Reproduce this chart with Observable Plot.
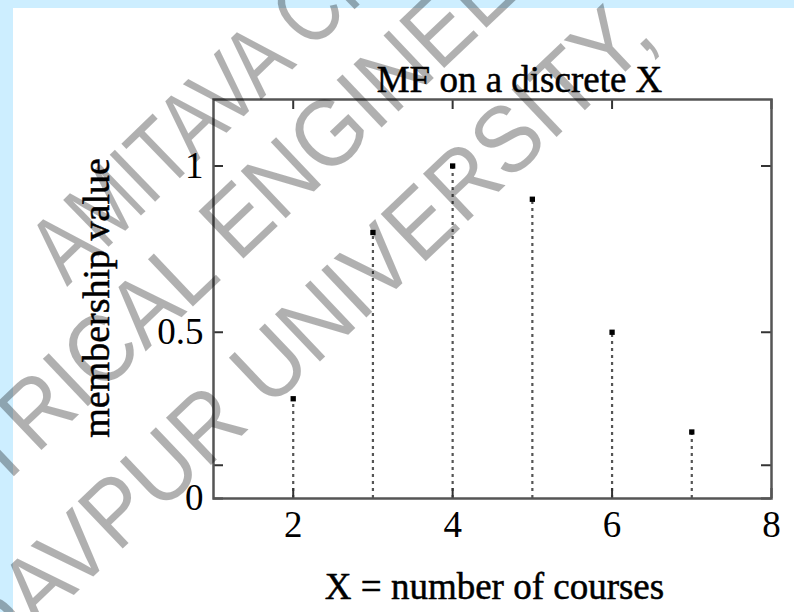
<!DOCTYPE html>
<html>
<head>
<meta charset="utf-8">
<script src="https://cdn.jsdelivr.net/npm/d3@7"></script>
<script src="https://cdn.jsdelivr.net/npm/@observablehq/plot@0.6"></script>
<style>
  html, body { margin: 0; padding: 0; background: #cdeeff; }
  #wrap { position: relative; width: 794px; height: 612px; overflow: hidden; }
  #paper { position: absolute; left: 13px; top: 8px; right: 0; bottom: 0; background: #ffffff; }
  #chart, #wm { position: absolute; left: 0; top: 0; }
  #wm { pointer-events: none; }
</style>
</head>
<body>
<div id="wrap">
  <div id="paper"></div>
  <div id="chart"></div>
  <svg id="wm" width="794" height="612"></svg>
</div>
<script>
// ---- data ----
const xValues = [2, 3, 4, 5, 6, 7];
const muValues = [0.3, 0.8, 1.0, 0.9, 0.5, 0.2];
const xTicks = [2, 4, 6, 8];
const yTickMarks = [0, 0.1, 0.5, 1];
const yTickLabels = [0, 0.5, 1];
const titleText = "MF on a discrete X";
const xLabelText = "X = number of courses";
const yLabelText = "membership value";
const watermarkLines = ["AMITAVA CHAKRABARTI", "ELECTRICAL ENGINEERING,", "JADAVPUR UNIVERSITY,"];

const data = xValues.map((x, i) => ({x, mu: muValues[i]}));

const W = 794, H = 612;
const mL = 213, mR = 23, mT = 99, mB = 114;
const innerW = W - mL - mR, innerH = H - mT - mB;
const tickLen = 10;
const serif = "'Liberation Serif', 'Times New Roman', Times, serif";
const textStroke = {stroke: "#000", strokeWidth: 0.5};

const plot = Plot.plot({
  width: W, height: H,
  marginLeft: mL, marginRight: mR, marginTop: mT, marginBottom: mB,
  x: {domain: [1, 8]},
  y: {domain: [0, 1.2]},
  style: {fontFamily: serif, fontSize: "37px", background: "transparent", color: "#000", overflow: "visible"},
  marks: [
    Plot.ruleX(data, {x: "x", y1: 0, y2: "mu", stroke: "#555", strokeWidth: 2.2, strokeDasharray: "3,4"}),
    Plot.dot(data, {x: "x", y: "mu", symbol: "square", r: 3, fill: "#000", stroke: "none"}),
    Plot.ruleX(xTicks, {insetTop: innerH - tickLen, stroke: "#333", strokeWidth: 2}),
    Plot.ruleX(xTicks, {insetBottom: innerH - tickLen, stroke: "#333", strokeWidth: 2}),
    Plot.ruleY(yTickMarks, {insetRight: innerW - tickLen, stroke: "#333", strokeWidth: 2}),
    Plot.ruleY(yTickMarks, {insetLeft: innerW - tickLen, stroke: "#333", strokeWidth: 2}),
    Plot.frame({stroke: "#555", strokeWidth: 2.5}),
    Plot.axisX({ticks: xTicks, tickSize: 0, tickPadding: 12, tickFormat: d3.format(""), label: null, fontSize: 37, ...textStroke}),
    Plot.axisY({ticks: yTickLabels, tickSize: 0, tickPadding: 10, tickFormat: d3.format(""), label: null, fontSize: 37, ...textStroke}),
    Plot.text([titleText], {frameAnchor: "top", dx: 27, dy: -8, lineAnchor: "bottom", fontSize: 37, fill: "#000", ...textStroke}),
    Plot.text([xLabelText], {frameAnchor: "bottom", dx: 2, dy: 100, lineAnchor: "bottom", fontSize: 37, fill: "#000", ...textStroke}),
    Plot.text([yLabelText], {frameAnchor: "left", textAnchor: "middle", dx: -105, dy: -1, rotate: -90, lineAnchor: "bottom", fontSize: 38, fill: "#000", ...textStroke})
  ]
});
document.getElementById("chart").appendChild(plot);

// ---- watermark overlay ----
const wm = d3.select("#wm");
const wmLayout = [
  {x: 67, y: 287, angle: -44, sx: 0.81},
  {x: -168, y: 649, angle: -43.5, sx: 0.92},
  {x: -82, y: 743, angle: -43.5, sx: 0.92}
];
watermarkLines.forEach((t, i) => {
  const p = wmLayout[i];
  wm.append("text")
    .attr("transform", `translate(${p.x},${p.y}) rotate(${p.angle}) scale(${p.sx},1)`)
    .attr("font-family", "'Liberation Sans', Arial, sans-serif")
    .attr("font-size", 95)
    .attr("fill", "#000")
    .attr("fill-opacity", 0.31)
    .text(t);
});
</script>
</body>
</html>
